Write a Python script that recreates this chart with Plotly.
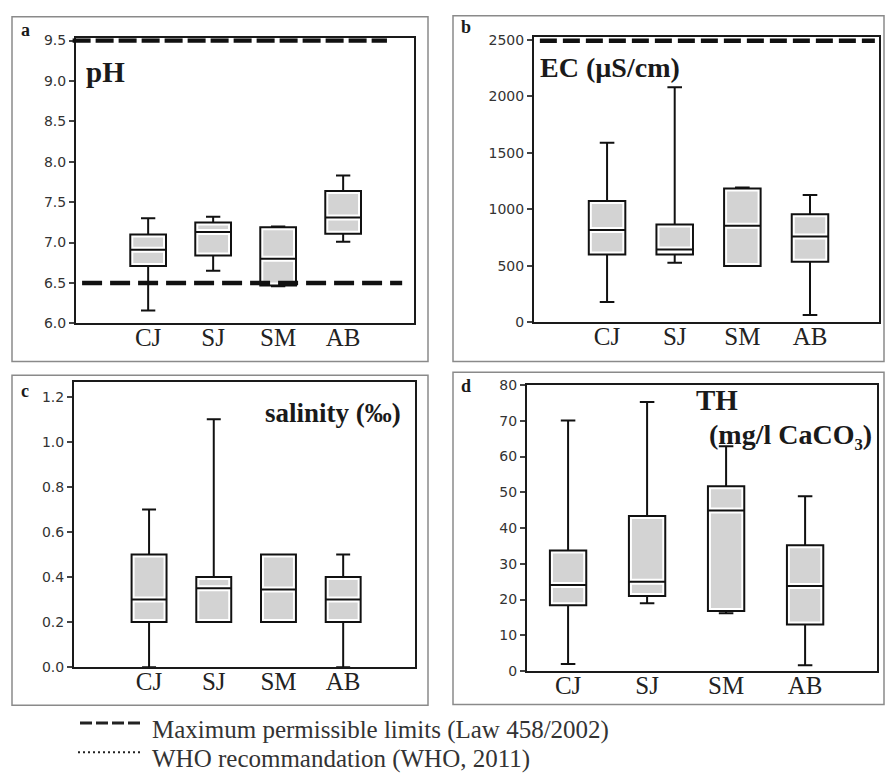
import plotly.graph_objects as go

categories = ["CJ", "SJ", "SM", "AB"]

# pH
ph_low = [6.16, 6.65, 6.46, 7.01]
ph_q1 = [6.71, 6.84, 6.47, 7.11]
ph_med = [6.91, 7.13, 6.80, 7.31]
ph_q3 = [7.10, 7.25, 7.19, 7.64]
ph_high = [7.30, 7.32, 7.20, 7.83]
ph_limits = [9.5, 6.5]

# EC (uS/cm)
ec_low = [179, 526, 497, 64]
ec_q1 = [598, 598, 497, 535]
ec_med = [815, 642, 853, 757]
ec_q3 = [1072, 864, 1182, 954]
ec_high = [1587, 2078, 1191, 1124]
ec_limits = [2490]

# salinity (permil)
sal_low = [0.0, 0.20, 0.20, 0.0]
sal_q1 = [0.20, 0.20, 0.20, 0.20]
sal_med = [0.30, 0.35, 0.345, 0.30]
sal_q3 = [0.50, 0.40, 0.50, 0.40]
sal_high = [0.70, 1.10, 0.50, 0.50]

# TH (mg/l CaCO3)
th_low = [2.0, 19.0, 16.2, 1.6]
th_q1 = [18.4, 21.0, 16.8, 13.0]
th_med = [24.1, 25.0, 44.9, 23.8]
th_q3 = [33.7, 43.4, 51.7, 35.2]
th_high = [70.1, 75.3, 62.9, 48.9]

W, H = 885, 778
SERIF = "Liberation Serif"
SANS = "DejaVu Sans"

fig = go.Figure()

panels = [
    ("x", "y", ph_low, ph_q1, ph_med, ph_q3, ph_high, 0.55),
    ("x2", "y2", ec_low, ec_q1, ec_med, ec_q3, ec_high, 0.54),
    ("x3", "y3", sal_low, sal_q1, sal_med, sal_q3, sal_high, 0.54),
    ("x4", "y4", th_low, th_q1, th_med, th_q3, th_high, 0.46),
]

for xa, ya, lo, q1, med, q3, hi, bw in panels:
    # white halo underneath (gives the inset white border look)
    fig.add_trace(go.Box(
        x=categories, lowerfence=lo, q1=q1, median=med, q3=q3, upperfence=hi,
        xaxis=xa, yaxis=ya, width=bw, whiskerwidth=0.4,
        fillcolor="#d3d3d3", line=dict(color="white", width=6),
        boxpoints=False, showlegend=False, hoverinfo="skip"))
    # black outline on top
    fig.add_trace(go.Box(
        x=categories, lowerfence=lo, q1=q1, median=med, q3=q3, upperfence=hi,
        xaxis=xa, yaxis=ya, width=bw, whiskerwidth=0.4,
        fillcolor="rgba(0,0,0,0)", line=dict(color="#111111", width=2),
        boxpoints=False, showlegend=False, hoverinfo="skip"))

def px_x(p):
    return p / W

def px_y(p):
    return 1 - p / H

axis_common = dict(
    showline=True, linecolor="#1a1a1a", linewidth=2, mirror=True,
    showgrid=False, zeroline=False,
)
xcommon = dict(axis_common, type="category", ticks="", ticklabelstandoff=-9,
               tickfont=dict(family=SERIF, size=25, color="#222222"))
ycommon = dict(axis_common, ticks="outside", ticklen=5, tickwidth=1.5,
               tickcolor="#444444",
               tickfont=dict(family=SANS, size=14, color="#333333"))

fig.update_layout(
    width=W, height=H, margin=dict(l=0, r=0, t=0, b=0),
    paper_bgcolor="white", plot_bgcolor="white",
    boxmode="overlay", showlegend=False,
    xaxis=dict(xcommon, domain=[px_x(76), px_x(414)], range=[-1.11, 4.09], anchor="y"),
    yaxis=dict(ycommon, domain=[px_y(322), px_y(30.8)], range=[6.0, 9.53],
               tickvals=[6.0, 6.5, 7.0, 7.5, 8.0, 8.5, 9.0, 9.5], tickformat=".1f", anchor="x"),
    xaxis2=dict(xcommon, domain=[px_x(534), px_x(879)], range=[-1.08, 4.02], anchor="y2"),
    yaxis2=dict(ycommon, domain=[px_y(320.7), px_y(29.3)], range=[0, 2526],
                tickvals=[0, 500, 1000, 1500, 2000, 2500], anchor="x2"),
    xaxis3=dict(xcommon, domain=[px_x(74), px_x(415)], range=[-1.16, 4.11], anchor="y3"),
    yaxis3=dict(ycommon, domain=[px_y(673), px_y(382)], range=[0, 1.265],
                tickvals=[0, 0.2, 0.4, 0.6, 0.8, 1.0, 1.2], tickformat=".1f", anchor="x3"),
    xaxis4=dict(xcommon, domain=[px_x(527), px_x(877)], range=[-0.52, 3.91], anchor="y4"),
    yaxis4=dict(ycommon, domain=[px_y(677), px_y(385)], range=[0, 80],
                tickvals=[0, 10, 20, 30, 40, 50, 60, 70, 80], anchor="x4"),
)

shapes = []
# outer grey panel frames
for (x0, y0, x1, y1) in [(12, 9, 428, 361), (453, 8, 884, 361),
                         (12, 375, 428, 712), (453, 372, 884, 711)]:
    shapes.append(dict(type="rect", xref="paper", yref="paper",
                       x0=px_x(x0), x1=px_x(x1), y0=px_y(y1), y1=px_y(y0),
                       line=dict(color="#8a8a8a", width=1.5), fillcolor="rgba(0,0,0,0)",
                       layer="below"))

# limit lines
shapes.append(dict(type="line", xref="x domain", yref="y", x0=-0.01, x1=0.92,
                   y0=ph_limits[0], y1=ph_limits[0],
                   line=dict(color="#111111", width=4.5, dash="18px,5px")))
shapes.append(dict(type="line", xref="x domain", yref="y", x0=0.018, x1=0.965,
                   y0=ph_limits[1], y1=ph_limits[1],
                   line=dict(color="#111111", width=4.5, dash="20px,8px")))
shapes.append(dict(type="line", xref="x2 domain", yref="y2", x0=0.017, x1=0.988,
                   y0=ec_limits[0], y1=ec_limits[0],
                   line=dict(color="#111111", width=4.5, dash="17px,6px")))

# legend samples
shapes.append(dict(type="line", xref="paper", yref="paper",
                   x0=px_x(80), x1=px_x(142), y0=px_y(730), y1=px_y(730),
                   line=dict(color="#222222", width=3, dash="12px,4px")))
shapes.append(dict(type="line", xref="paper", yref="paper",
                   x0=px_x(78), x1=px_x(142), y0=px_y(760), y1=px_y(760),
                   line=dict(color="#222222", width=2, dash="2px,3px")))
fig.update_layout(shapes=shapes)

ann = []
def txt(x, y, s, size, bold=True, anchor="left", color="#1a1a1a"):
    ann.append(dict(xref="paper", yref="paper", x=px_x(x), y=px_y(y),
                    text=("<b>%s</b>" % s) if bold else s, showarrow=False,
                    xanchor=anchor, yanchor="middle",
                    font=dict(family=SERIF, size=size, color=color)))

# panel letters
txt(19, 22, "a", 18)
txt(459, 19, "b", 18)
txt(19, 391, "c", 18)
txt(459, 386, "d", 18)
# panel titles
txt(84, 65, "pH", 29)
txt(538, 61, "EC (µS/cm)", 28)
txt(403, 413, "salinity (‰)", 27, anchor="right")
txt(694, 400, "TH", 29)
txt(874, 435, "(mg/l CaCO₃)", 28, anchor="right")
# legend
txt(150, 737, "Maximum permissible limits (Law 458/2002)", 25, bold=False, color="#333333")
txt(150, 767, "WHO recommandation (WHO, 2011)", 25, bold=False, color="#333333")
fig.update_layout(annotations=ann)

fig.write_html("out.html")
